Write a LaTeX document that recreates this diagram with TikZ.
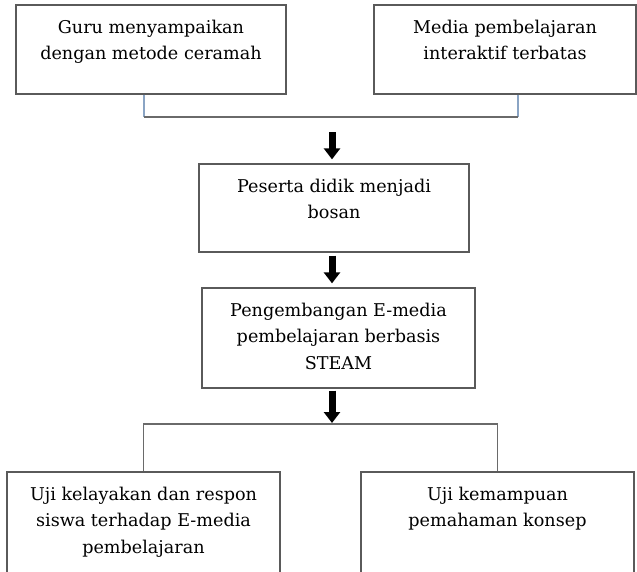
\documentclass[tikz,border=0pt]{standalone}
\usepackage{fontspec}
\setmainfont{DejaVu Serif}
\usetikzlibrary{arrows.meta}
\definecolor{boxgray}{HTML}{5A5A5A}
\definecolor{linkblue}{HTML}{8AA4C4}
\definecolor{linkgray}{HTML}{6A6A6A}
\newcommand{\flowtext}[3]{\parbox[c][#2][t]{#1}{\centering\vspace*{15pt}#3}}

\begin{document}
\begin{tikzpicture}[x=1pt,y=-1pt,
    font=\fontsize{17.6}{26.5}\selectfont,
    flowbox/.style={draw=boxgray,line width=1.3pt,inner sep=0pt},
    bigarrow/.style={line width=7pt,-{Triangle[width=16pt,length=11pt]}},
    linkup/.style={draw=linkblue,line width=1.1pt},
    linkdown/.style={draw=linkgray,line width=1.3pt}]
    \clip (0,0) rectangle (637,571);
    \useasboundingbox (0,0) rectangle (637,571);

    \node[flowbox] (guru) at (151,49.5) {\flowtext{270pt}{89pt}{Guru menyampaikan\\dengan metode ceramah}};
    \node[flowbox] (media) at (505,49.5) {\flowtext{262pt}{89pt}{Media pembelajaran\\interaktif terbatas}};
    \node[flowbox] (bosan) at (334,208) {\flowtext{270pt}{88pt}{Peserta didik menjadi\\bosan}};
    \node[flowbox] (steam) at (338.5,338) {\flowtext{273pt}{100pt}{Pengembangan E-media\\pembelajaran berbasis\\STEAM}};
    \node[flowbox] (uji1) at (143.5,527) {\flowtext{273pt}{110pt}{Uji kelayakan dan respon\\siswa terhadap E-media\\pembelajaran}};
    \node[flowbox] (uji2) at (497.5,527) {\flowtext{273pt}{110pt}{Uji kemampuan\\pemahaman konsep}};

    % top junction
    \coordinate (join) at (331,117);
    \coordinate (start) at (332,132);
    \draw[linkup] ([xshift=-7pt]guru.south) -- ([xshift=-7pt]guru.south |- join);
    \draw[linkup] ([xshift=13pt]media.south) -- ([xshift=13pt]media.south |- join);
    \draw[linkdown] ([xshift=-7pt]guru.south |- join) -- ([xshift=13pt]media.south |- join);

    \draw[bigarrow] (start) -- ([yshift=4pt]start |- bosan.north);
    \draw[bigarrow] ([yshift=-3pt]start |- bosan.south) -- ([yshift=4pt]start |- steam.north);

    % bottom split
    \coordinate (split) at (332,424);
    \draw[bigarrow] ([yshift=-2pt]split |- steam.south) -- ([yshift=1pt]split);
    \draw[linkdown] (uji1.north) |- (split) -| (uji2.north);
\end{tikzpicture}
\end{document}
